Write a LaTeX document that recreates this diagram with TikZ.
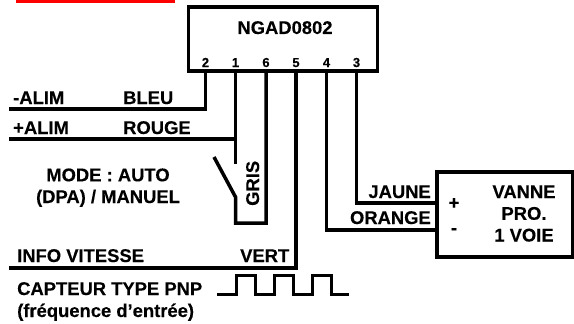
\documentclass[tikz,border=0pt]{standalone}
\usepackage{fontspec}
\setmainfont[BoldFeatures={FakeBold=0.25}]{Liberation Sans}
\tikzset{
	boxpart/.style={draw,line width=3.5pt,inner sep=0pt},
	wire/.style={line width=3.5pt,line cap=butt,line join=miter},
	lab/.style={font=\fontsize{18.4}{21.7}\selectfont\bfseries,inner sep=0pt,anchor=base west},
	labr/.style={lab,anchor=base east},
	labc/.style={lab,anchor=base,align=center},
	pinlab/.style={font=\fontsize{13}{14}\selectfont\bfseries,inner sep=0pt,anchor=base}
}
\begin{document}
\begin{tikzpicture}[x=1pt,y=-1pt]
	\useasboundingbox (0,0) rectangle (574,324);
	\fill[red] (16,0) rectangle (175,3);
	% boxes
	\node[boxpart,minimum width=189pt,minimum height=64pt] (ngad) at (283,39) {};
	\node[boxpart,minimum width=136pt,minimum height=85pt] (vanne) at (505,214.5) {};
	\node[labc] (ngadname) at (285,34) {NGAD0802};
	\node[labc] (vannename) at (524,241.5) {VANNE\\PRO.\\1 VOIE};
	\node[lab,anchor=base] (plus) at (454,209) {+};
	\node[lab,anchor=base] (minus) at (454,234) {-};
	% pins
	\node[pinlab] (pin2) at (205.5,67) {2};
	\node[pinlab] (pin1) at (235.5,67) {1};
	\node[pinlab] (pin6) at (266,67) {6};
	\node[pinlab] (pin5) at (296,67) {5};
	\node[pinlab] (pin4) at (326.5,67) {4};
	\node[pinlab] (pin3) at (356.5,67) {3};
	% free ends
	\coordinate (alimm) at (9,109);
	\coordinate (alimp) at (9,139);
	\coordinate (info) at (9,268);
	\coordinate (contact) at (235.5,164);
	\coordinate (swtop) at (214,157);
	\coordinate (swbot) at (235.5,197);
	\coordinate (grisb) at (235.5,223);
	% wires
	\draw[wire] (pin2 |- ngad.south) |- (alimm);
	\draw[wire] (pin1 |- ngad.south) -- (contact);
	\draw[wire] (alimp) -- (alimp -| pin1);
	\draw[wire] (swtop) -- (swbot) -- (grisb) -| (pin6 |- ngad.south);
	\draw[wire] (pin5 |- ngad.south) |- (info);
	\draw[wire] (pin3 |- ngad.south) |- (vanne.west |- 0,203);
	\draw[wire] (pin4 |- ngad.south) |- (vanne.west |- 0,230);
	% signal
	\draw[wire,line width=3pt] (217,294) -- ++(19,0) -- ++(0,-19) -- ++(19,0) -- ++(0,19)
		-- ++(19,0) -- ++(0,-19) -- ++(19,0) -- ++(0,19)
		-- ++(19,0) -- ++(0,-19) -- ++(19,0) -- ++(0,19) -- ++(18,0);
	% labels
	\node[lab] (lalimm) at (13,104) {-ALIM};
	\node[lab] (lbleu) at (123,104) {BLEU};
	\node[lab] (lalimp) at (13,134) {+ALIM};
	\node[lab] (lrouge) at (123,134) {ROUGE};
	\node[labc] (lmode) at (108,203) {MODE : AUTO\\(DPA) / MANUEL};
	\node[lab,rotate=90] (lgris) at (259,206) {GRIS};
	\node[lab] (linfo) at (17,262) {INFO VITESSE};
	\node[lab] (lvert) at (240,262) {VERT};
	\node[lab] (lcapt) at (17,295) {CAPTEUR TYPE PNP};
	\node[lab] (lfreq) at (17,317) {(fréquence d’entrée)};
	\node[labr] (ljaune) at (431,198) {JAUNE};
	\node[labr] (lorange) at (431,224) {ORANGE};
\end{tikzpicture}
\end{document}
